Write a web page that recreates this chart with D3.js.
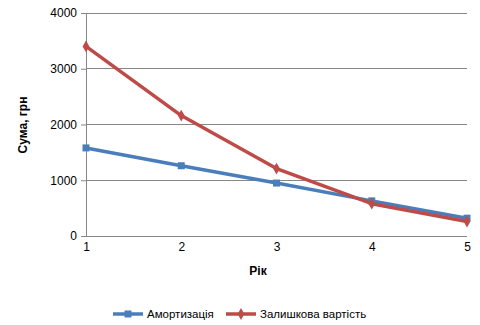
<!DOCTYPE html>
<html><head><meta charset="utf-8">
<script src="https://cdn.jsdelivr.net/npm/d3@7"></script>
<style>body{margin:0;background:#fff}svg{font-family:"Liberation Sans",Arial,sans-serif}</style>
</head><body><svg id="c" width="480" height="325"></svg>
<script>
const years = [1, 2, 3, 4, 5];
const amort = [1580, 1260, 950, 630, 320];
const residual = [3400, 2160, 1210, 580, 260];
const yTicks = [0, 1000, 2000, 3000, 4000];
const seriesNames = ["Амортизація", "Залишкова вартість"];
const colors = ["#4a7ebb", "#be4b48"];

const svg = d3.select("#c");
const x = d3.scaleLinear().domain([1, 5]).range([86, 467]);
const y = d3.scaleLinear().domain([0, 4000]).range([236, 13]);

svg.append("g").selectAll("line").data(yTicks).join("line")
  .attr("x1", 86).attr("x2", 467).attr("y1", d => y(d)).attr("y2", d => y(d))
  .attr("stroke", "#878787").attr("stroke-width", 1).attr("shape-rendering", "crispEdges");

const yAxis = svg.append("g").attr("transform", "translate(86,0)")
  .call(d3.axisLeft(y).tickValues(yTicks).tickSize(5).tickPadding(4).tickFormat(d3.format("d")));
yAxis.select(".domain").attr("stroke", "#878787");
yAxis.selectAll(".tick line").attr("stroke", "#878787");
yAxis.selectAll("text").attr("font-size", 12).attr("fill", "#000").attr("font-family", "Liberation Sans, Arial, sans-serif");

const xAxis = svg.append("g").attr("transform", "translate(0,236)")
  .call(d3.axisBottom(x).tickValues(years).tickSize(0).tickPadding(6).tickFormat(d3.format("d")));
xAxis.select(".domain").remove();
xAxis.selectAll("text").attr("font-size", 12).attr("fill", "#000").attr("font-family", "Liberation Sans, Arial, sans-serif");

svg.append("text").attr("x", 258).attr("y", 275).attr("text-anchor", "middle")
  .attr("font-weight", "bold").attr("font-size", 12).text("Рік");
svg.append("text").attr("transform", "translate(27,125) rotate(-90)").attr("text-anchor", "middle")
  .attr("font-weight", "bold").attr("font-size", 12).text("Сума, грн");

const data = [amort, residual];
const line = d3.line().x((d, i) => x(years[i])).y(d => y(d));
data.forEach((vals, s) => {
  svg.append("path").datum(vals).attr("d", line).attr("fill", "none")
    .attr("stroke", colors[s]).attr("stroke-width", 3.5).attr("stroke-linejoin", "round");
  const g = svg.append("g");
  vals.forEach((v, i) => {
    if (s === 0) {
      g.append("rect").attr("x", x(years[i]) - 3.5).attr("y", y(v) - 3.5).attr("width", 7).attr("height", 7).attr("fill", colors[s]);
    } else {
      g.append("path").attr("d", d3.symbol(d3.symbolDiamond, 40)()).attr("transform", `translate(${x(years[i])},${y(v)})`).attr("fill", colors[s]);
    }
  });
});

const leg = [{x: 113, tx: 147}, {x: 226, tx: 260}];
leg.forEach((l, s) => {
  const ly = 314;
  svg.append("line").attr("x1", l.x).attr("x2", l.x + 30).attr("y1", ly).attr("y2", ly)
    .attr("stroke", colors[s]).attr("stroke-width", 3.5);
  if (s === 0) svg.append("rect").attr("x", l.x + 11.5).attr("y", ly - 3.5).attr("width", 7).attr("height", 7).attr("fill", colors[s]);
  else svg.append("path").attr("d", d3.symbol(d3.symbolDiamond, 40)()).attr("transform", `translate(${l.x + 15},${ly})`).attr("fill", colors[s]);
  svg.append("text").attr("x", l.tx).attr("y", ly + 4).attr("font-size", 11.5).text(seriesNames[s]);
});
</script></body></html>
